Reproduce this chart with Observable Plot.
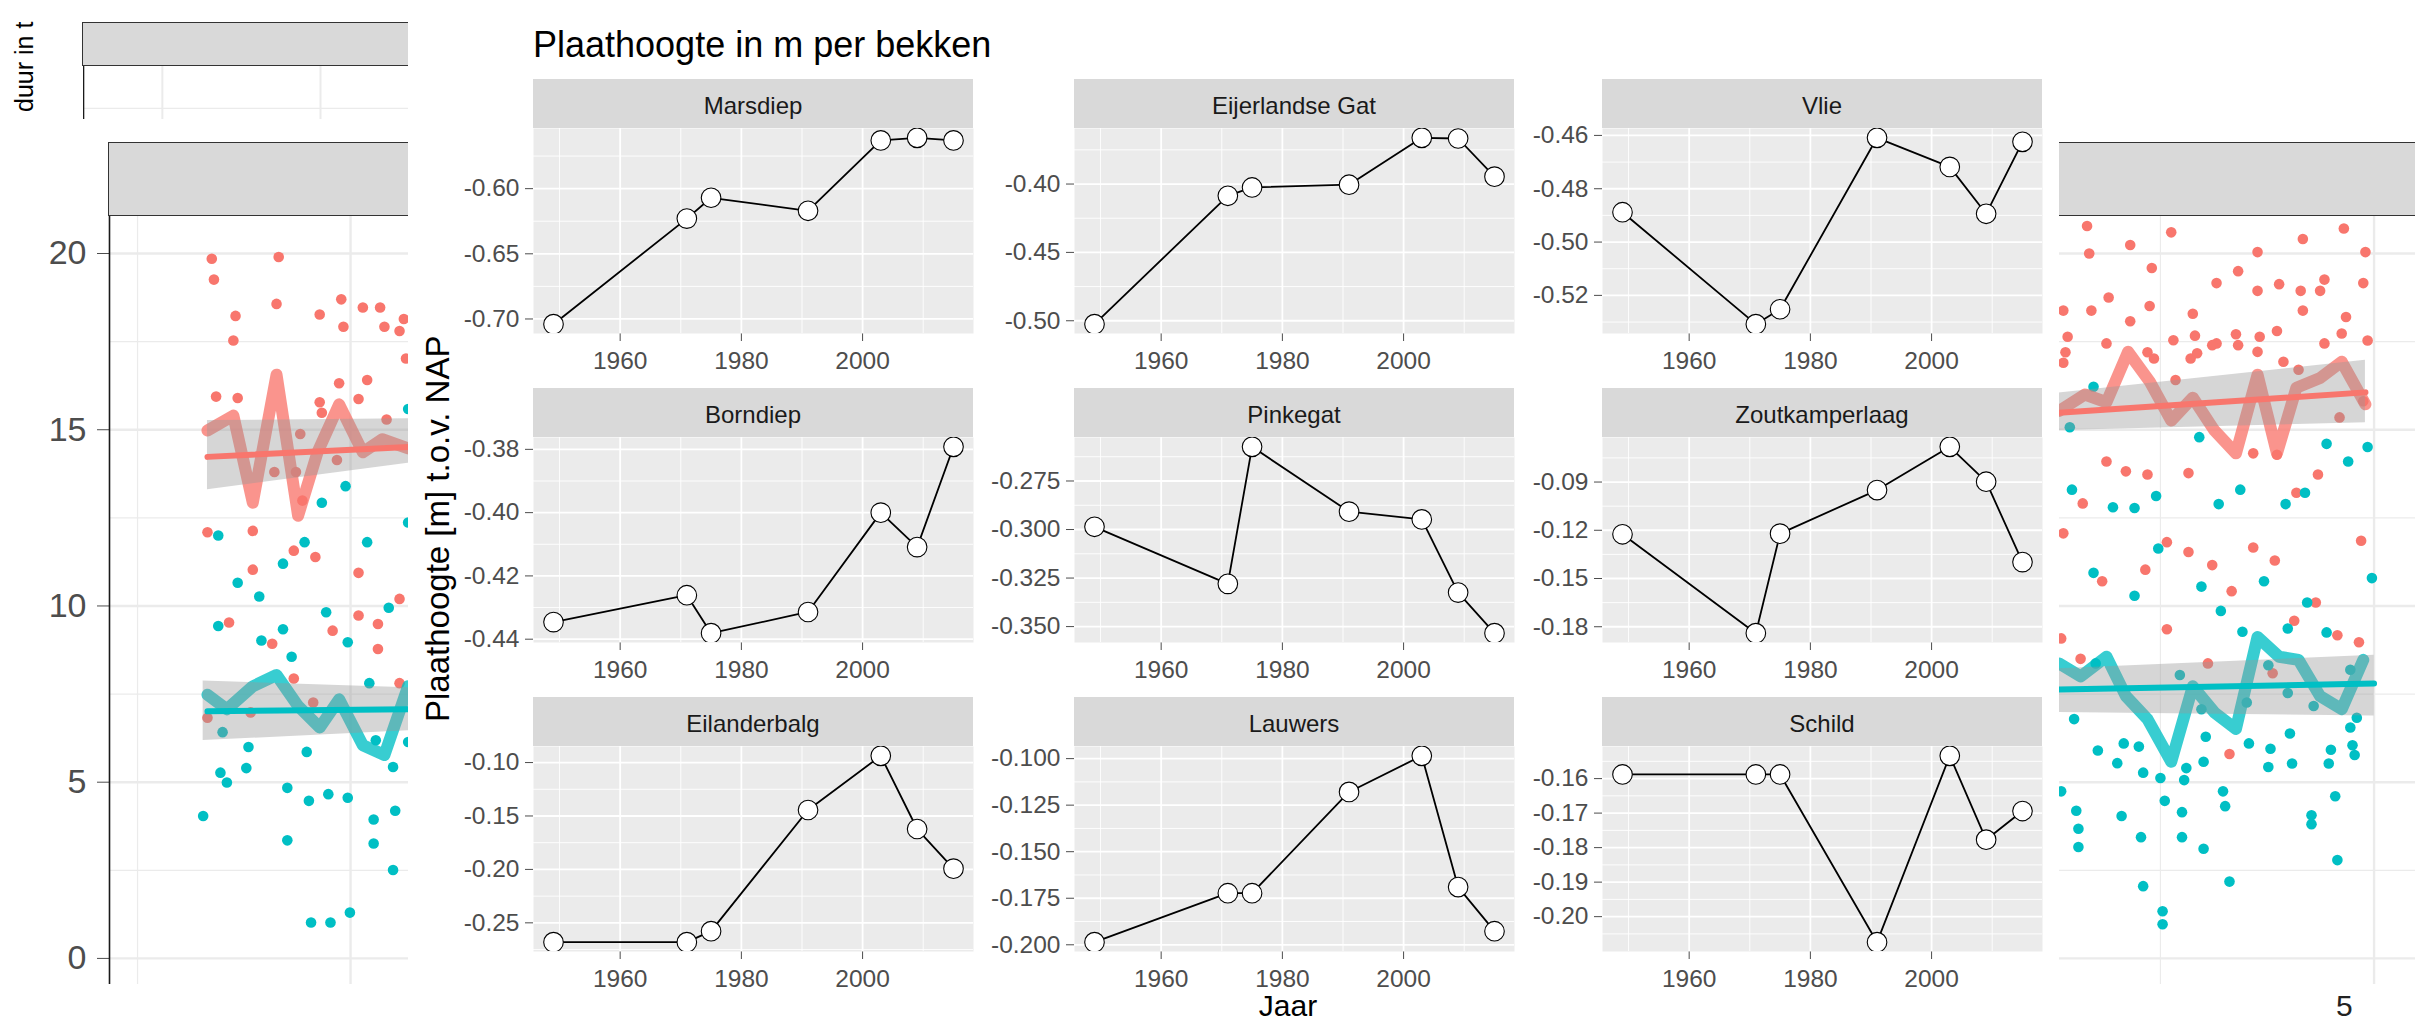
<!DOCTYPE html>
<html>
<head>
<meta charset="utf-8">
<script src="https://cdn.jsdelivr.net/npm/d3@7"></script>
<script src="https://cdn.jsdelivr.net/npm/@observablehq/plot@0.6"></script>
<style>
  html, body { margin: 0; padding: 0; background: #fff; }
  #root { position: relative; width: 2415px; height: 1026px; overflow: hidden; background: #fff; }
</style>
</head>
<body>
<div id="root"></div>
<script>
// ---------------- foreground data: Plaathoogte per bekken ----------------
const years = [1949, 1971, 1975, 1991, 2003, 2009, 2015];
const bekkens = ["Marsdiep", "Eijerlandse Gat", "Vlie", "Borndiep", "Pinkegat", "Zoutkamperlaag", "Eilanderbalg", "Lauwers", "Schild"];
const marsdiep       = [-0.704, -0.623, -0.607, -0.617, -0.563, -0.561, -0.563];
const eijerlandseGat = [-0.5025, -0.4086, -0.4025, -0.4005, -0.3662, -0.3667, -0.3946];
const vlie           = [-0.4888, -0.5308, -0.5252, -0.4609, -0.4718, -0.4894, -0.4624];
const borndiep       = [-0.4346, -0.4261, -0.4381, -0.4314, -0.4000, -0.4109, -0.3792];
const pinkegat       = [-0.2986, -0.3280, -0.2574, -0.2908, -0.2948, -0.3325, -0.3534];
const zoutkamperlaag = [-0.1225, -0.1840, -0.1221, -0.0950, -0.0681, -0.0898, -0.1398];
const eilanderbalg   = [-0.2681, -0.2681, -0.2578, -0.1444, -0.0937, -0.1622, -0.1993];
const lauwers        = [-0.1986, -0.1723, -0.1723, -0.1179, -0.0985, -0.1690, -0.1927];
const schild         = [-0.1588, -0.1588, -0.1588, -0.2074, -0.1534, -0.1777, -0.1694];
const panelValues = [marsdiep, eijerlandseGat, vlie, borndiep, pinkegat, zoutkamperlaag, eilanderbalg, lauwers, schild];

const xMajorTicks = [1960, 1980, 2000];
const xMinorTicks = [1950, 1970, 1990, 2010];
const yMajorTicks = [
  [-0.70, -0.65, -0.60],
  [-0.50, -0.45, -0.40],
  [-0.52, -0.50, -0.48, -0.46],
  [-0.44, -0.42, -0.40, -0.38],
  [-0.350, -0.325, -0.300, -0.275],
  [-0.18, -0.15, -0.12, -0.09],
  [-0.25, -0.20, -0.15, -0.10],
  [-0.200, -0.175, -0.150, -0.125, -0.100],
  [-0.20, -0.19, -0.18, -0.17, -0.16]
];
const yMinorTicks = [
  [-0.675, -0.625, -0.575],
  [-0.475, -0.425, -0.375],
  [-0.53, -0.51, -0.49, -0.47],
  [-0.43, -0.41, -0.39],
  [-0.3375, -0.3125, -0.2875, -0.2625],
  [-0.165, -0.135, -0.105, -0.075],
  [-0.275, -0.225, -0.175, -0.125],
  [-0.1875, -0.1625, -0.1375, -0.1125],
  [-0.205, -0.195, -0.185, -0.175, -0.165, -0.155]
];
const yDecimals = [2, 2, 2, 2, 3, 2, 2, 3, 2];

const titleText = "Plaathoogte in m per bekken";
const yTitleText = "Plaathoogte [m] t.o.v. NAP";
const xTitleText = "Jaar";

// ---------------- background data (partly hidden chart behind) ----------------
// [t, value]; t = time step index of the background chart
const bgRedPts = [
 [0.2,19.85],[0.3,19.26],[0.4,15.94],[0,12.09],[0,6.83],[1.3,18.23],[1.2,17.53],[1.4,15.9],[1.0,9.53],[2.1,12.13],[2.1,11.03],[2.0,6.98],[3.0,8.93],[3.3,19.9],[3.2,18.57],[3.1,13.8],[4.0,11.57],[4.0,7.94],[4.3,14.88],[4.1,13.8],[4.4,12.99],[5.2,18.27],[5.2,15.78],[5.3,15.48],[5.0,11.39],[5.8,9.3],[4.9,7.26],[6.2,18.7],[6.3,17.92],[6.1,16.32],[6.0,14.14],[7.0,10.94],[7.0,9.73],[7.2,18.47],[7.4,16.41],[7.0,15.87],[8.0,18.47],[8.2,17.92],[8.3,15.29],[7.9,9.49],[7.9,8.78],[8.9,7.81],[9.1,18.14],[8.9,17.8],[9.2,17.02],[8.9,10.2],
 [87.1,20.78],[87.2,20.0],[86.0,18.38],[86.2,17.64],[86.1,17.2],[86.0,16.9],[87.3,18.38],[88.1,18.75],[88.0,17.45],[89.1,20.24],[89.1,18.08],[90.1,19.59],[90.0,18.51],[89.9,17.2],[90.2,17.02],[91.0,20.6],[91.1,17.54],[91.2,16.41],[92.0,18.29],[92.1,17.67],[91.9,17.02],[92.2,17.17],[93.1,19.16],[93.1,17.45],[92.9,17.4],[94.1,19.5],[94.0,17.71],[94.1,17.4],[95.0,20.04],[95.0,18.94],[95.1,17.64],[95.0,17.21],[96.0,19.13],[95.9,17.8],[96.2,16.93],[96.9,16.7],[97.1,20.41],[97.0,18.94],[97.1,18.38],[98.1,19.26],[97.9,18.94],[98.1,17.45],[99.0,20.71],[99.1,18.2],[98.9,17.73],[100.0,20.04],[99.9,19.16],[100.1,17.53],[99.9,15.81],
 [88.0,14.1],[88.9,13.82],[89.9,13.73],[86.9,12.91],[91.8,13.77],[94.8,14.33],[95.9,14.29],[97.8,13.73],[96.8,13.21],[98.8,15.35],[86.0,12.06],[87.8,10.7],[89.8,11.03],[90.8,11.81],[91.8,11.53],[92.9,11.16],[93.8,10.42],[94.8,11.66],[95.8,11.29],[96.7,9.58],[97.7,10.1],[99.8,11.85],[85.9,9.08],[90.8,9.34],[92.7,8.37],[93.7,5.8],[95.7,8.09],[98.7,9.17],[99.7,8.97],[86.8,8.5]
];
const bgTealPts = [
 [-0.2,4.04],[0.5,12.0],[0.5,9.43],[0.6,5.27],[0.9,4.99],[0.7,6.42],[1.4,10.66],[1.8,5.4],[1.9,6.0],[2.4,10.27],[2.5,9.02],[3.5,11.2],[3.5,9.34],[3.9,8.56],[3.7,4.84],[3.7,3.35],[4.5,11.81],[4.6,5.86],[4.7,4.47],[4.8,1.02],[5.3,12.93],[5.5,9.82],[5.7,1.02],[5.6,4.66],[6.4,13.4],[6.5,8.97],[6.5,4.56],[6.6,1.3],[7.4,11.81],[7.5,7.81],[7.8,6.19],[7.7,3.94],[7.7,3.26],[8.4,9.95],[8.6,5.43],[8.7,4.19],[8.6,2.51],[9.3,15.59],[9.3,12.37],[9.3,6.14],
 [87.4,16.22],[86.3,15.07],[92.3,14.79],[98.2,14.6],[99.2,14.1],[100.1,14.51],[86.4,13.3],[88.3,12.8],[89.3,12.78],[90.3,13.12],[93.2,12.89],[94.2,13.3],[96.3,12.89],[97.2,13.21],[90.4,11.63],[87.4,10.94],[89.3,10.29],[92.4,10.55],[93.3,9.86],[95.3,10.7],[100.3,10.79],[94.3,9.27],[96.4,9.36],[97.3,10.1],[98.2,9.25],[91.4,8.04],[87.5,8.37],[95.5,8.32],[99.3,8.19],[86.5,6.79],[92.4,7.07],[94.5,7.26],[96.4,7.53],[97.6,7.16],[87.6,5.9],[88.8,6.1],[89.5,6.01],[88.5,5.54],[89.7,5.27],[90.5,5.12],[91.7,5.4],[91.6,5.06],[92.5,5.58],[92.6,6.29],[94.6,6.1],[95.6,5.95],[95.5,5.43],[96.5,6.38],[96.6,5.53],[98.4,5.92],[98.3,5.53],[99.3,6.55],[99.4,6.05],[99.6,6.83],[99.5,5.77],[85.9,4.74],[86.6,4.19],[86.7,3.68],[86.7,3.16],[88.7,4.04],[89.6,3.44],[89.7,2.05],[90.7,4.47],[91.5,4.15],[91.5,3.44],[90.6,1.34],[90.6,0.97],[92.5,3.11],[93.4,4.74],[93.5,4.32],[93.7,2.18],[97.5,4.06],[97.5,3.81],[98.6,4.6],[98.7,2.79]
];
const bgRedThick = [[0,14.98],[1.2,15.4],[2.1,12.93],[3.2,16.56],[4.2,12.56],[5.1,14.36],[6.1,15.72],[7.2,14.36],[8.1,14.73],[9.3,14.47],[85.8,15.53],[87,16.0],[88,15.78],[89,17.21],[90,16.37],[91,15.26],[92,15.91],[93,14.98],[94,14.33],[95,16.56],[95.9,14.33],[96.8,16.19],[97.9,16.47],[98.9,16.93],[100,15.72]];
const bgTealThick = [[0,7.48],[0.9,7.07],[2.1,7.72],[3.2,8.04],[4.2,7.16],[5.2,6.55],[6.1,7.35],[7.2,6.05],[8.2,5.77],[9.3,7.72],[85.8,8.37],[86.8,8.0],[88,8.56],[88.9,7.44],[89.9,6.79],[91,5.58],[92,7.72],[93,6.98],[94,6.51],[95,9.12],[96,8.56],[96.9,8.47],[97.9,7.44],[98.9,7.07],[99.9,8.47]];
const bgRedTrend = [[0,14.23],[9.3,14.51],[85.8,15.48],[100,16.06]];
const bgTealTrend = [[0,7.01],[9.3,7.07],[85.8,7.63],[100.4,7.8]];
const bgRedBand = [[0,13.3,15.26],[9.3,14.05,15.31],[85.8,14.98,16.04],[100,15.2,16.97]];
const bgTealBand = [[-0.2,6.18,7.87],[9.3,6.46,7.68],[85.8,6.98,8.22],[100.4,6.88,8.6]];
const bgYTicks = [0, 5, 10, 15, 20];
const bgYMinor = [2.5, 7.5, 12.5, 17.5];
const bgXGridMinor = [-3.24, 90.5];
const bgXGridMajor = [6.63, 100.4];
const bgDomainT = [-4.54, 102.32];
const bgDomainV = [-0.74, 21.05];
const miniGridX = [0.232, 0.697];
const miniGridY = [0.21];
const sideLabelText = "duur in t";
const slideNumber = "5";

// ---------------- helpers ----------------
const FONT = '"Liberation Sans", Arial, Helvetica, sans-serif';
const root = document.getElementById("root");
const BASE = 0.8465; // baseline offset for line-height = font-size (Liberation Sans)

function put(el, left, top, parent = root) {
  el.style.position = "absolute";
  el.style.left = left + "px";
  el.style.top = top + "px";
  parent.appendChild(el);
  return el;
}
function textDiv(txt, size, color = "#000", extra = {}) {
  const d = document.createElement("div");
  d.textContent = txt;
  Object.assign(d.style, {fontFamily: FONT, fontSize: size + "px", lineHeight: size + "px", color, whiteSpace: "nowrap"}, extra);
  return d;
}
function boxDiv(w, h, extra = {}) {
  const d = document.createElement("div");
  Object.assign(d.style, {width: w + "px", height: h + "px", boxSizing: "border-box"}, extra);
  return d;
}

// ---------------- background chart ----------------
const toObj = grp => ([t, v]) => ({t, v, grp});
const bgPoints = [...bgRedPts.map(toObj("a")), ...bgTealPts.map(toObj("b"))];
const bgThick = [...bgRedThick.map(toObj("a")), ...bgTealThick.map(toObj("b"))];
const bgTrend = [...bgRedTrend.map(toObj("a")), ...bgTealTrend.map(toObj("b"))];
const bgBand = [...bgRedBand.map(([t, lo, hi]) => ({t, lo, hi, grp: "a"})), ...bgTealBand.map(([t, lo, hi]) => ({t, lo, hi, grp: "b"}))];

const bg = Plot.plot({
  width: 2415, height: 1026,
  marginLeft: 109, marginRight: 0, marginTop: 216, marginBottom: 42,
  style: {background: "transparent", fontFamily: FONT, fontSize: "34px", color: "#4D4D4D", maxWidth: "none"},
  x: {domain: bgDomainT, axis: null},
  y: {domain: bgDomainV, ticks: bgYTicks, tickFormat: d => String(d), tickSize: 12, tickPadding: 11, label: null},
  color: {domain: ["a", "b"], range: ["#F8766D", "#00BFC4"]},
  marks: [
    Plot.ruleY(bgYMinor, {stroke: "#EBEBEB", strokeWidth: 1.2}),
    Plot.ruleY(bgYTicks, {stroke: "#EBEBEB", strokeWidth: 2.4}),
    Plot.ruleX(bgXGridMinor, {stroke: "#EBEBEB", strokeWidth: 1.2}),
    Plot.ruleX(bgXGridMajor, {stroke: "#EBEBEB", strokeWidth: 2.4}),
    Plot.dot(bgPoints, {x: "t", y: "v", fill: "grp", r: 5.3}),
    Plot.line(bgThick, {x: "t", y: "v", z: "grp", stroke: "grp", strokeWidth: 12, strokeOpacity: 0.78}),
    Plot.areaY(bgBand, {x: "t", y1: "lo", y2: "hi", z: "grp", fill: "#999999", fillOpacity: 0.4}),
    Plot.line(bgTrend, {x: "t", y: "v", z: "grp", stroke: "grp", strokeWidth: 6}),
    Plot.ruleX([bgDomainT[0]], {stroke: "#1A1A1A", strokeWidth: 1.6})
  ]
});
put(bg, 0, 0);

// background strip
put(boxDiv(2320, 74, {background: "#D9D9D9", borderTop: "1.6px solid #333", borderBottom: "1.6px solid #333", borderLeft: "1.6px solid #333"}), 108, 142);

// top-left mini panel (cut off)
const mini = Plot.plot({
  width: 340, height: 53, margin: 0,
  style: {background: "#fff", maxWidth: "none"},
  x: {domain: [0, 1], axis: null},
  y: {domain: [0, 1], axis: null},
  marks: [
    Plot.ruleY(miniGridY, {stroke: "#EBEBEB", strokeWidth: 1.2}),
    Plot.ruleX(miniGridX, {stroke: "#EBEBEB", strokeWidth: 2}),
    Plot.ruleX([0], {stroke: "#1A1A1A", strokeWidth: 1.6})
  ]
});
put(mini, 83, 66);
put(boxDiv(340, 44, {background: "#D9D9D9", borderTop: "1.6px solid #333", borderBottom: "1.6px solid #333", borderLeft: "1.6px solid #333"}), 82, 22);

// rotated side label (partly visible in the reference)
const side = textDiv(sideLabelText, 25, "#000", {transform: "rotate(-90deg)", transformOrigin: "0 0"});
put(side, 33 - BASE * 25, 112);

// slide number
put(textDiv(slideNumber, 30, "#222"), 2336, 1016 - BASE * 30);

// ---------------- foreground chart ----------------
put(boxDiv(1651, 1026, {background: "#fff"}), 408, 0);

const COL_LEFT = [533, 1074, 1602];
const STRIP_TOP = [79, 388, 697];
const PW = 440, PH = 205, SH = 49, ML = 110, MB = 50;
const xDom = [years[0] - 0.05 * (years[years.length - 1] - years[0]), years[years.length - 1] + 0.05 * (years[years.length - 1] - years[0])];

bekkens.forEach((name, i) => {
  const col = i % 3, row = Math.floor(i / 3);
  const vals = panelValues[i];
  const data = years.map((year, j) => ({year, v: vals[j]}));
  const [lo, hi] = d3.extent(vals);
  const pad = 0.05 * (hi - lo);
  const yDom = [lo - pad, hi + pad];
  const inDom = v => v >= yDom[0] && v <= yDom[1];
  const dec = yDecimals[i];
  const svg = Plot.plot({
    width: ML + PW, height: PH + MB,
    marginLeft: ML, marginRight: 0, marginTop: 0, marginBottom: MB,
    style: {background: "transparent", fontFamily: FONT, fontSize: "24.5px", color: "#4D4D4D", overflow: "visible", maxWidth: "none"},
    x: {domain: xDom, ticks: xMajorTicks, tickFormat: d => String(d), tickSize: 8, tickPadding: 10, label: null},
    y: {domain: yDom, ticks: yMajorTicks[i], tickFormat: d => d.toFixed(dec), tickSize: 8, tickPadding: 6, label: null},
    marks: [
      Plot.frame({fill: "#EBEBEB", stroke: "none"}),
      Plot.ruleX(xMinorTicks, {stroke: "#FFFFFF", strokeWidth: 0.9}),
      Plot.ruleY(yMinorTicks[i].filter(inDom), {stroke: "#FFFFFF", strokeWidth: 0.9}),
      Plot.ruleX(xMajorTicks, {stroke: "#FFFFFF", strokeWidth: 1.8}),
      Plot.ruleY(yMajorTicks[i].filter(inDom), {stroke: "#FFFFFF", strokeWidth: 1.8}),
      Plot.line(data, {x: "year", y: "v", stroke: "#000", strokeWidth: 1.8, clip: true}),
      Plot.dot(data, {x: "year", y: "v", r: 9.8, fill: "#FFFFFF", stroke: "#000", strokeWidth: 1.1, clip: true})
    ]
  });
  put(svg, COL_LEFT[col] - ML, STRIP_TOP[row] + SH);
  // strip
  const strip = boxDiv(PW, SH, {background: "#D9D9D9"});
  put(strip, COL_LEFT[col], STRIP_TOP[row]);
  const st = textDiv(name, 24, "#1A1A1A", {width: PW + "px", textAlign: "center"});
  put(st, 0, 35 - BASE * 24, strip);
});

// titles
put(textDiv(titleText, 36, "#000"), 533, 57 - BASE * 36);
const jaarSize = 30, jaarLH = 0.9 * jaarSize;
const jaarBase = (jaarLH - 1.117 * jaarSize) / 2 + 0.905 * jaarSize;
put(textDiv(xTitleText, jaarSize, "#000", {width: "300px", textAlign: "center", lineHeight: jaarLH + "px"}), 1288 - 150, 1016 - jaarBase);
put(textDiv(yTitleText, 33, "#000", {transform: "rotate(-90deg)", transformOrigin: "0 0"}), 449 - BASE * 33, 722);
</script>
</body>
</html>
